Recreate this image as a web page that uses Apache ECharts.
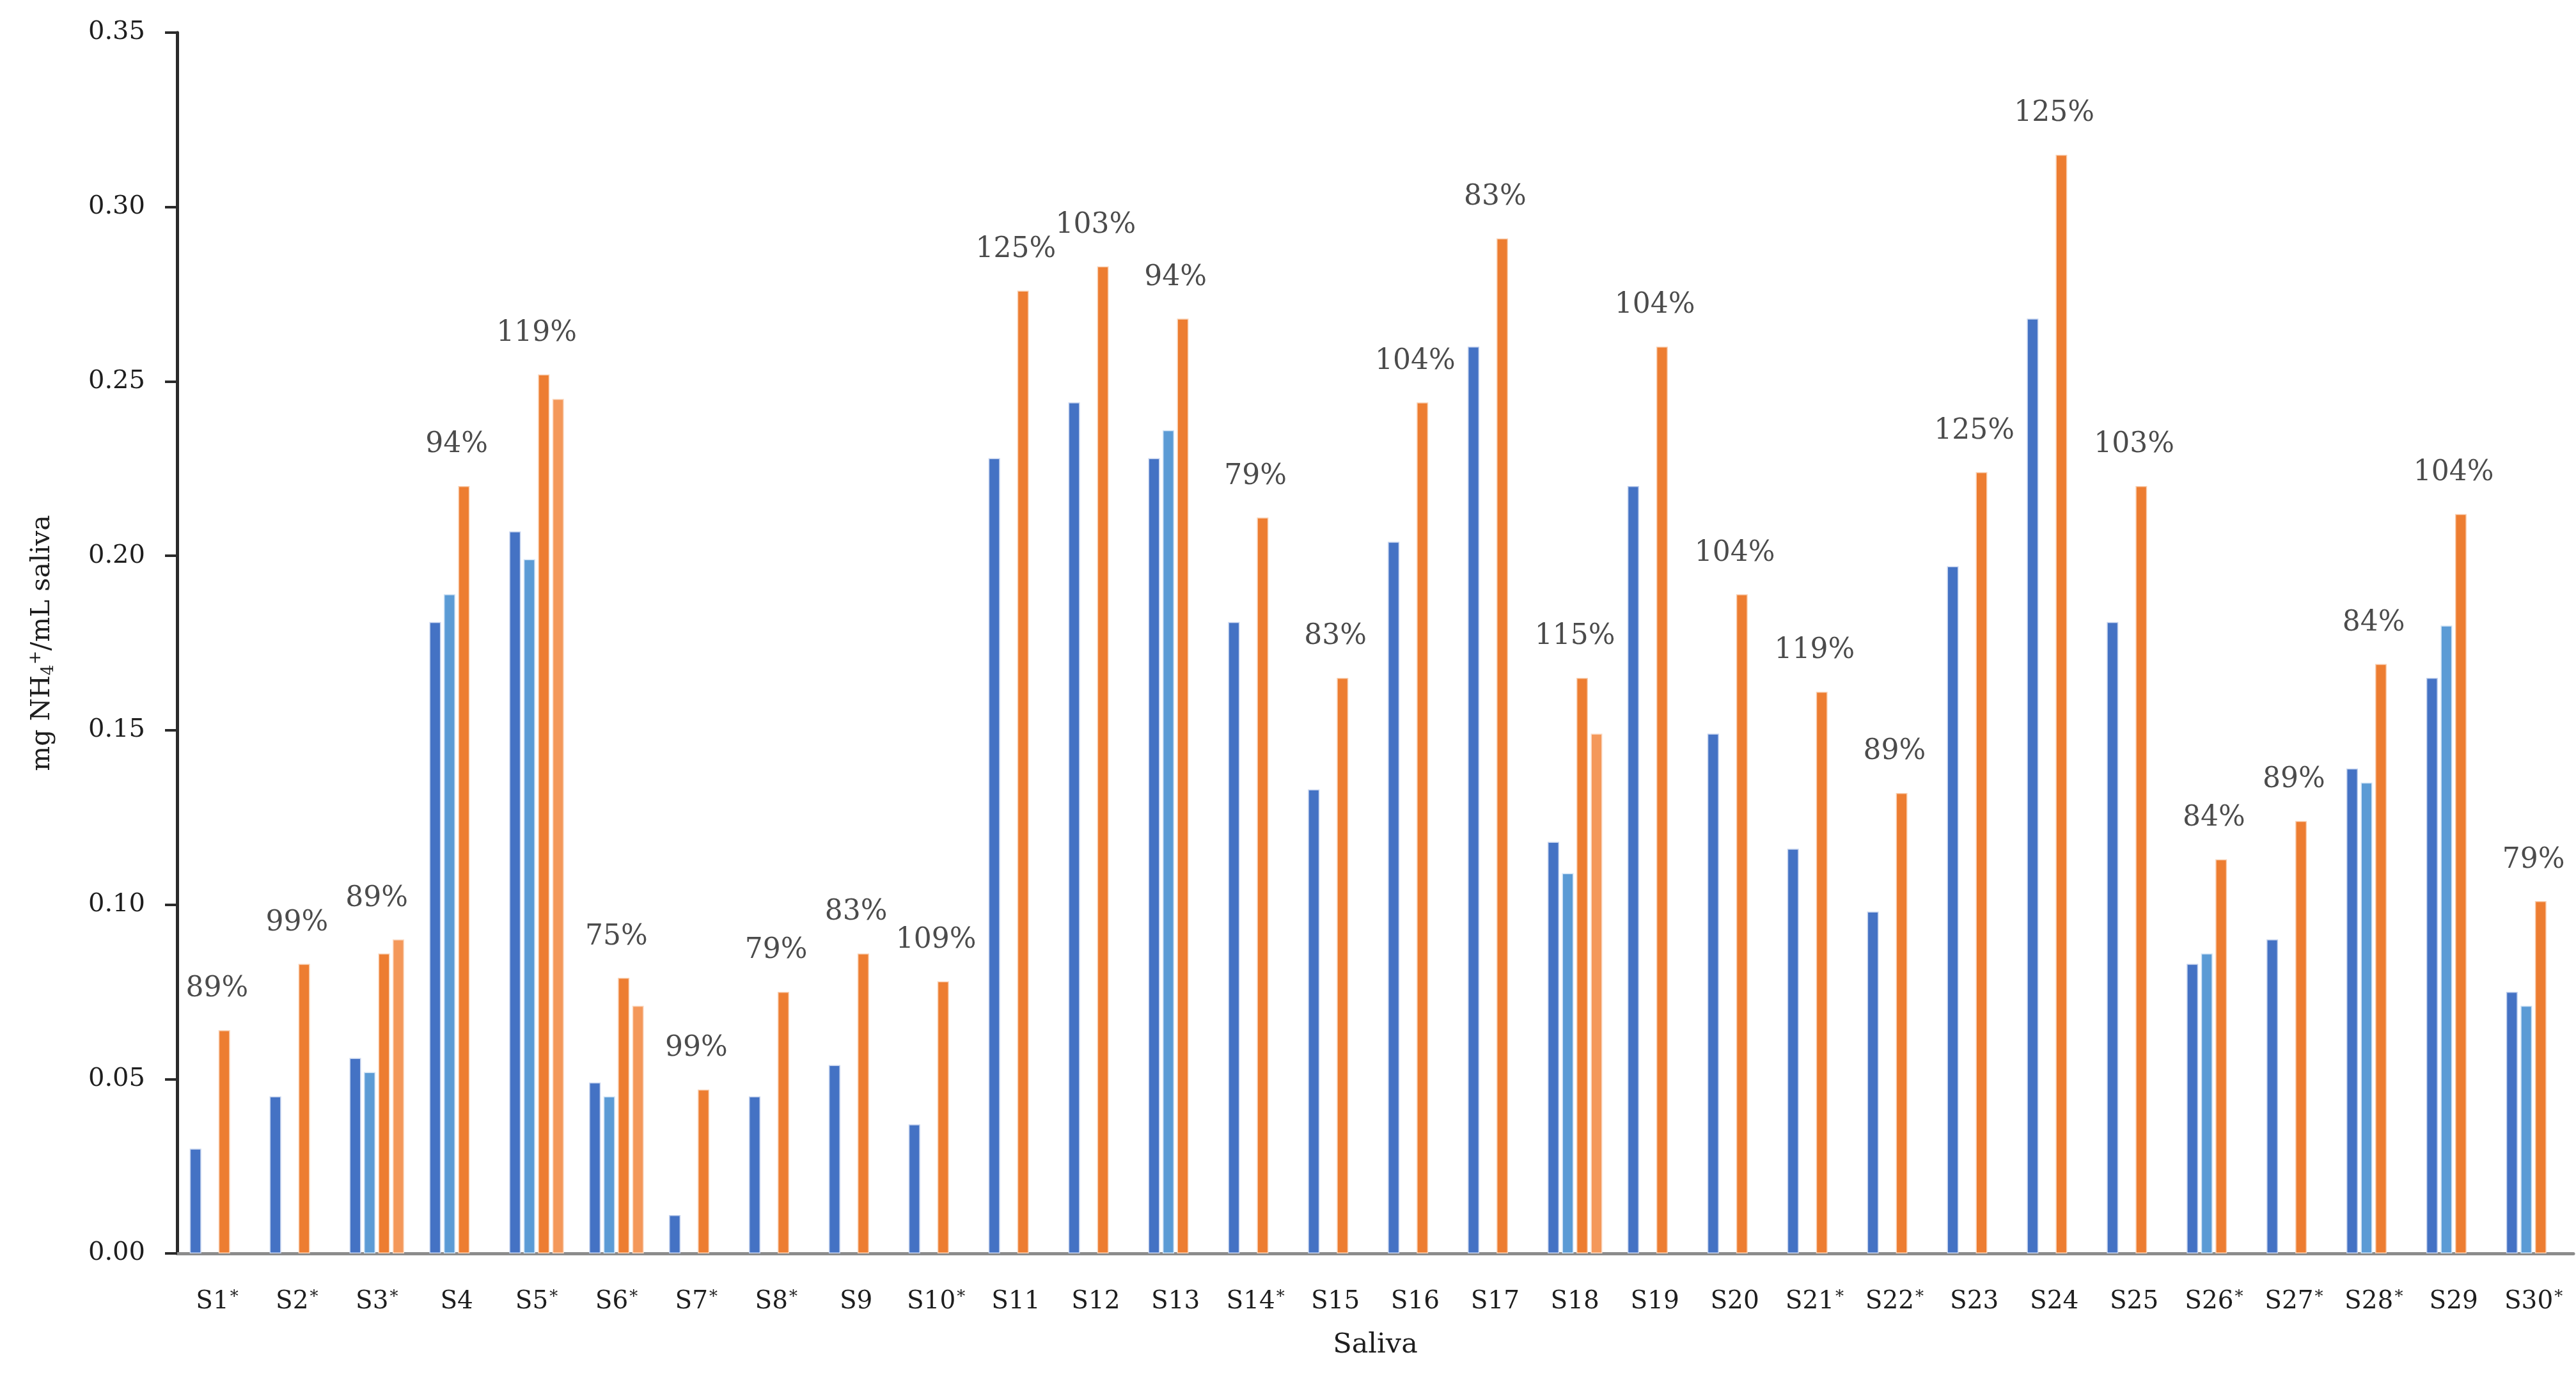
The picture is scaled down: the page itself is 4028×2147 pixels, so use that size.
<!DOCTYPE html>
<html>
<head>
<meta charset="utf-8">
<script src="https://cdn.jsdelivr.net/npm/echarts@6/dist/echarts.min.js"></script>
<style>
html,body{margin:0;padding:0;background:#fff;}
#chart{width:4028px;height:2147px;}
</style>
</head>
<body>
<div id="chart"></div>
<script>
const categories = ['S1*','S2*','S3*','S4','S5*','S6*','S7*','S8*','S9','S10*','S11','S12','S13','S14*','S15','S16','S17','S18','S19','S20','S21*','S22*','S23','S24','S25','S26*','S27*','S28*','S29','S30*'];
const blueA = [0.030,0.045,0.056,0.181,0.207,0.049,0.011,0.045,0.054,0.037,0.228,0.244,0.228,0.181,0.133,0.204,0.260,0.118,0.220,0.149,0.116,0.098,0.197,0.268,0.181,0.083,0.090,0.139,0.165,0.075];
const blueB = [null,null,0.052,0.189,0.199,0.045,null,null,null,null,null,null,0.236,null,null,null,null,0.109,null,null,null,null,null,null,null,0.086,null,0.135,0.180,0.071];
const orangeA = [0.064,0.083,0.086,0.220,0.252,0.079,0.047,0.075,0.086,0.078,0.276,0.283,0.268,0.211,0.165,0.244,0.291,0.165,0.260,0.189,0.161,0.132,0.224,0.315,0.220,0.113,0.124,0.169,0.212,0.101];
const orangeB = [null,null,0.090,null,0.245,0.071,null,null,null,null,null,null,null,null,null,null,null,0.149,null,null,null,null,null,null,null,null,null,null,null,null];
const recovery = ['89%','99%','89%','94%','119%','75%','99%','79%','83%','109%','125%','103%','94%','79%','83%','104%','83%','115%','104%','104%','119%','89%','125%','125%','103%','84%','89%','84%','104%','79%'];
const yTicks = {min:0, max:0.35, interval:0.05};

const groupMax = categories.map((c,i)=>Math.max(blueA[i]||0, blueB[i]||0, orangeA[i]||0, orangeB[i]||0));

const FONT = '"DejaVu Serif", "Liberation Serif", serif';
const TXT = '#1e1e1e';
const chart = echarts.init(document.getElementById('chart'), null, {renderer:'canvas'});

function barSeries(name, data, color, border){
  return {
    name, type:'bar', data, barWidth:18, barGap:'25%',
    itemStyle:{color, borderColor:border, borderWidth:1.5},
    z:2
  };
}

chart.setOption({
  animation:false,
  backgroundColor:'#ffffff',
  grid:{left:277, right:4, top:51, bottom:187, containLabel:false},
  xAxis:{
    type:'category', data:categories,
    axisLine:{show:true, lineStyle:{color:'#8c8c8c', width:5}},
    axisTick:{show:false},
    axisLabel:{
      margin:52,
      formatter:v=>v.indexOf('*')>=0 ? '{a|'+v.replace('*','')+'}{s|*}' : '{a|'+v+'}',
      rich:{
        a:{color:TXT, fontFamily:FONT, fontSize:39, lineHeight:48},
        s:{color:TXT, fontFamily:FONT, fontSize:26, lineHeight:48, verticalAlign:'top', padding:[4,0,0,2]}
      }
    },
    name:'Saliva', nameLocation:'middle', nameGap:122,
    nameTextStyle:{color:TXT, fontFamily:FONT, fontSize:43}
  },
  yAxis:{
    type:'value', min:yTicks.min, max:yTicks.max, interval:yTicks.interval,
    axisLine:{show:true, lineStyle:{color:'#2b2b2b', width:5}},
    axisTick:{show:true, inside:false, length:19, lineStyle:{color:'#2b2b2b', width:4}},
    axisLabel:{color:TXT, fontFamily:FONT, fontSize:40, margin:50, formatter:v=>v.toFixed(2)},
    splitLine:{show:false},
    name:'{a|mg NH}{s|4}{p|+}{a|/mL saliva}', nameLocation:'middle', nameGap:186, nameRotate:90,
    nameTextStyle:{
      rich:{
        a:{fontFamily:FONT, fontSize:41, color:TXT, lineHeight:50},
        s:{fontFamily:FONT, fontSize:26, color:TXT, lineHeight:50, verticalAlign:'bottom', padding:[0,0,2,0]},
        p:{fontFamily:FONT, fontSize:26, color:TXT, lineHeight:50, verticalAlign:'top', padding:[2,0,0,0]}
      }
    }
  },
  series:[
    barSeries('A', blueA, '#4472C4', '#c4d2ee'),
    barSeries('B', blueB, '#5B9BD5', '#cde2f5'),
    barSeries('C', orangeA, '#ED7D31', '#f9d2b6'),
    barSeries('D', orangeB, '#F4985A', '#fbd9c2'),
    {
      type:'scatter', data:groupMax, symbolSize:0, silent:true, z:5,
      label:{
        show:true, position:'top', distance:42,
        formatter:p=>recovery[p.dataIndex],
        fontFamily:FONT, fontSize:44, color:TXT
      }
    }
  ]
});
</script>
</body>
</html>
